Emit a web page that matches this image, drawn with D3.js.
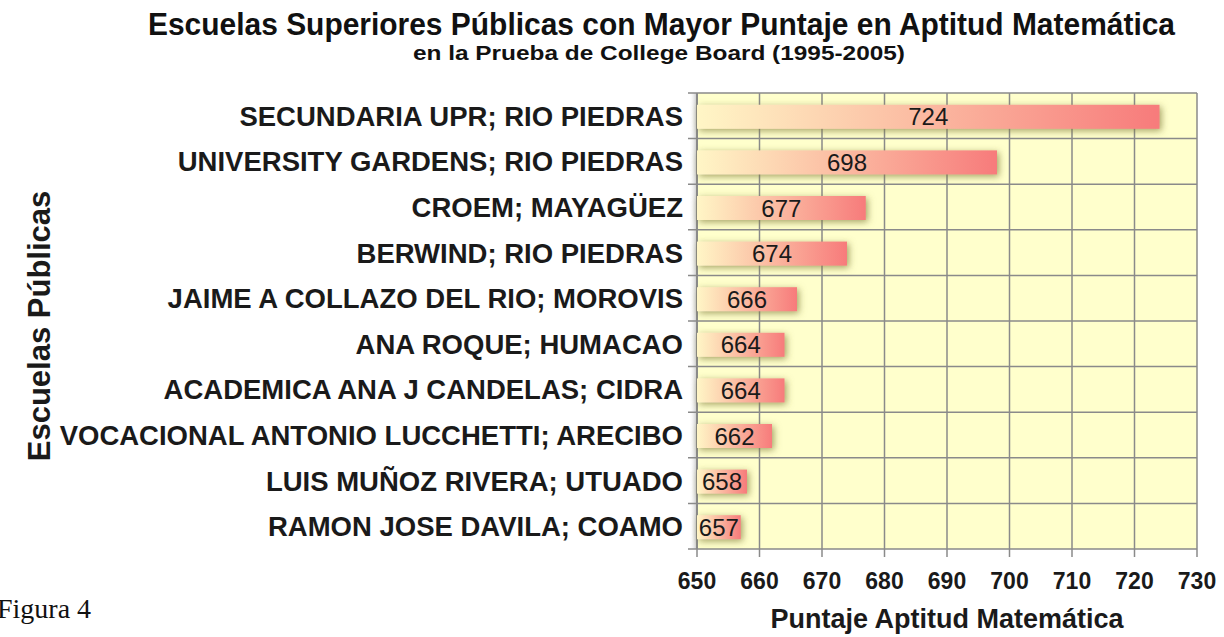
<!DOCTYPE html>
<html lang="es">
<head>
<meta charset="UTF-8" />
<title>Escuelas Superiores Públicas</title>
<script src="https://d3js.org/d3.v7.min.js"></script>
<style>
  body { margin: 0; background: #fff; }
  svg text { font-family: "Liberation Sans", Arial, sans-serif; }
</style>
</head>
<body>
<div id="chart"></div>
<script>
  // datos
  var schools = [
    "SECUNDARIA UPR; RIO PIEDRAS",
    "UNIVERSITY GARDENS; RIO PIEDRAS",
    "CROEM; MAYAGÜEZ",
    "BERWIND; RIO PIEDRAS",
    "JAIME A COLLAZO DEL RIO; MOROVIS",
    "ANA ROQUE; HUMACAO",
    "ACADEMICA ANA J CANDELAS; CIDRA",
    "VOCACIONAL ANTONIO LUCCHETTI; ARECIBO",
    "LUIS MUÑOZ RIVERA; UTUADO",
    "RAMON JOSE DAVILA; COAMO"
  ];
  var scores = [724, 698, 677, 674, 666, 664, 664, 662, 658, 657];
  var xTicks = [650, 660, 670, 680, 690, 700, 710, 720, 730];

  var width = 1224, height = 637;
  var plotL = 697, plotR = 1197, plotT = 93, plotB = 549;

  var svg = d3.select("#chart").append("svg")
    .attr("width", width)
    .attr("height", height);

  var defs = svg.append("defs");
  var grad = defs.append("linearGradient")
    .attr("id", "barGrad")
    .attr("x1", 0).attr("x2", 1).attr("y1", 0).attr("y2", 0);
  grad.append("stop").attr("offset", "0%").attr("stop-color", "#fff6c6");
  grad.append("stop").attr("offset", "100%").attr("stop-color", "#f77b7b");

  var shadow = defs.append("filter").attr("id", "glow")
    .attr("x", "-10%").attr("y", "-60%").attr("width", "130%").attr("height", "220%");
  shadow.append("feDropShadow")
    .attr("dx", 2).attr("dy", 2)
    .attr("stdDeviation", 3.5)
    .attr("flood-color", "#7d7a38")
    .attr("flood-opacity", 0.7);

  var leftShade = defs.append("linearGradient").attr("id", "leftShade")
    .attr("x1", 0).attr("x2", 1);
  leftShade.append("stop").attr("offset", "0%").attr("stop-color", "#fff").attr("stop-opacity", 0);
  leftShade.append("stop").attr("offset", "100%").attr("stop-color", "#9a9a9a").attr("stop-opacity", 0.6);

  var x = d3.scaleLinear().domain([650, 730]).range([plotL, plotR]);
  var y = d3.scaleBand().domain(schools).range([plotT, plotB]);

  // fondo del área
  svg.append("rect")
    .attr("x", plotL - 8).attr("y", plotT)
    .attr("width", 8).attr("height", plotB - plotT)
    .attr("fill", "url(#leftShade)");
  svg.append("rect")
    .attr("x", plotL).attr("y", plotT)
    .attr("width", plotR - plotL).attr("height", plotB - plotT)
    .attr("fill", "#ffffcc");

  // rejilla
  svg.append("g").selectAll("line")
    .data(xTicks)
    .join("line")
    .attr("x1", d => x(d)).attr("x2", d => x(d))
    .attr("y1", plotT).attr("y2", plotB + 8)
    .attr("stroke", "#8a8a8a").attr("stroke-width", 1.5);

  var rowEdges = schools.map(s => y(s)).concat([plotB]);
  svg.append("g").selectAll("line")
    .data(rowEdges)
    .join("line")
    .attr("x1", plotL - 9).attr("x2", plotR)
    .attr("y1", d => d).attr("y2", d => d)
    .attr("stroke", "#8a8a8a").attr("stroke-width", 1.5);

  svg.append("line")
    .attr("x1", plotL).attr("x2", plotL)
    .attr("y1", plotT).attr("y2", plotB)
    .attr("stroke", "#8a8a8a").attr("stroke-width", 2);

  // barras
  var barH = 24;
  var bars = svg.append("g");
  bars.selectAll("rect")
    .data(scores)
    .join("rect")
    .attr("x", x(650))
    .attr("y", (d, i) => y(schools[i]) + (y.bandwidth() - barH) / 2 + 1)
    .attr("width", d => x(d) - x(650))
    .attr("height", barH)
    .attr("fill", "url(#barGrad)")
    .attr("filter", "url(#glow)");

  bars.selectAll("text")
    .data(scores)
    .join("text")
    .attr("x", d => (x(650) + x(d)) / 2)
    .attr("y", (d, i) => y(schools[i]) + y.bandwidth() / 2 + 1)
    .attr("dy", "0.36em")
    .attr("text-anchor", "middle")
    .style("font-size", "24px")
    .attr("fill", "#1a1a1a")
    .text(d => d);

  // etiquetas de categorías
  svg.append("g").selectAll("text")
    .data(schools)
    .join("text")
    .attr("x", plotL - 14)
    .attr("y", d => y(d) + y.bandwidth() / 2)
    .attr("dy", "0.36em")
    .attr("text-anchor", "end")
    .style("font-size", "27.5px")
    .style("font-weight", "bold")
    .attr("fill", "#1a1a1a")
    .text(d => d);

  // eje x
  svg.append("g").selectAll("text")
    .data(xTicks)
    .join("text")
    .attr("x", d => x(d))
    .attr("y", 589)
    .attr("text-anchor", "middle")
    .style("font-size", "23px")
    .style("font-weight", "bold")
    .attr("fill", "#1a1a1a")
    .text(d => d);

  svg.append("text")
    .attr("x", 947).attr("y", 628)
    .attr("text-anchor", "middle")
    .style("font-size", "27px")
    .style("font-weight", "bold")
    .attr("fill", "#1a1a1a")
    .text("Puntaje Aptitud Matemática");

  svg.append("text")
    .attr("transform", "translate(50,326) rotate(-90)")
    .attr("text-anchor", "middle")
    .style("font-size", "31px")
    .style("font-weight", "bold")
    .attr("fill", "#1a1a1a")
    .text("Escuelas Públicas");

  // títulos
  svg.append("text")
    .attr("x", 148).attr("y", 35)
    .attr("textLength", 1027)
    .attr("lengthAdjust", "spacingAndGlyphs")
    .style("font-size", "31px")
    .style("font-weight", "bold")
    .attr("fill", "#111")
    .text("Escuelas Superiores Públicas con Mayor Puntaje en Aptitud Matemática");

  svg.append("text")
    .attr("x", 413).attr("y", 60)
    .attr("textLength", 492)
    .attr("lengthAdjust", "spacingAndGlyphs")
    .style("font-size", "20px")
    .style("font-weight", "bold")
    .attr("fill", "#111")
    .text("en la Prueba de College Board (1995-2005)");

  svg.append("text")
    .attr("x", -3).attr("y", 618)
    .style("font-family", "'Liberation Serif', 'Times New Roman', serif")
    .style("font-size", "28px")
    .attr("fill", "#111")
    .text("Figura 4");
</script>
</body>
</html>
